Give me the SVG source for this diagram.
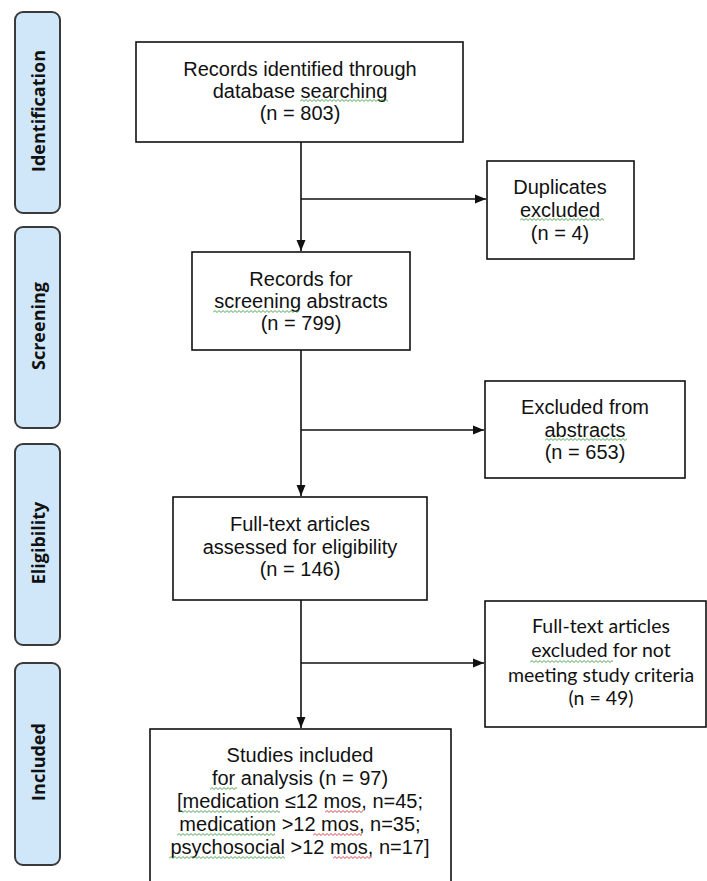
<svg xmlns="http://www.w3.org/2000/svg" xmlns:xlink="http://www.w3.org/1999/xlink" width="707" height="881" viewBox="0 0 707 881">
<style>
.stage rect{fill:#cfe7f9;stroke:#3a3a3a;stroke-width:2}
.stage text{font-family:"Open Sans","DejaVu Sans",sans-serif;font-weight:bold;font-size:18px;fill:#111;text-anchor:middle;dominant-baseline:central}
.box rect{fill:#fff;stroke:#111;stroke-width:1.6}
.box text{font-family:"Liberation Sans",Arial,sans-serif;font-size:20px;fill:#111;text-anchor:middle}
.box text.cal{font-family:Lato,"Open Sans",sans-serif;font-size:19.5px}
.conn line{stroke:#111;stroke-width:1.6}
.sq{stroke:#3a9a3a;stroke-width:0.9;fill:none;overflow:hidden}
.sqr{stroke:#d03030;stroke-width:0.9;fill:none;overflow:hidden}
</style>
<defs>
<marker id="ah" markerWidth="11" markerHeight="10" refX="11" refY="5" orient="auto" markerUnits="userSpaceOnUse">
<path d="M0,0.5 L11,5 L0,9.5 Z" fill="#111"/>
</marker>
<path id="zz" d="M0,2.5 l2,-2 l2,2 l2,-2 l2,2 l2,-2 l2,2 l2,-2 l2,2 l2,-2 l2,2 l2,-2 l2,2 l2,-2 l2,2 l2,-2 l2,2 l2,-2 l2,2 l2,-2 l2,2 l2,-2 l2,2 l2,-2 l2,2 l2,-2 l2,2 l2,-2 l2,2 l2,-2 l2,2 l2,-2 l2,2 l2,-2 l2,2 l2,-2 l2,2 l2,-2 l2,2 l2,-2 l2,2 l2,-2 l2,2 l2,-2 l2,2 l2,-2 l2,2 l2,-2 l2,2 l2,-2 l2,2 l2,-2 l2,2 l2,-2 l2,2 l2,-2 l2,2 l2,-2 l2,2 l2,-2 l2,2 l2,-2 l2,2 l2,-2 l2,2"/>
</defs>
<rect width="707" height="881" fill="#fff"/>

<g id="stage-identification" class="stage">
<rect x="15" y="12" width="45" height="201" rx="8"/>
<text transform="translate(37.5,111) rotate(-90)">Identification</text>
</g>
<g id="stage-screening" class="stage">
<rect x="15" y="227" width="45" height="201" rx="8"/>
<text transform="translate(37.5,326) rotate(-90)">Screening</text>
</g>
<g id="stage-eligibility" class="stage">
<rect x="15" y="444" width="45" height="201" rx="8"/>
<text transform="translate(37.5,543) rotate(-90)">Eligibility</text>
</g>
<g id="stage-included" class="stage">
<rect x="15" y="663" width="45" height="202" rx="8"/>
<text transform="translate(37.5,762) rotate(-90)">Included</text>
</g>

<g id="connectors" class="conn">
<line x1="301" y1="142" x2="301" y2="251" marker-end="url(#ah)"/>
<line x1="301" y1="199" x2="486" y2="199" marker-end="url(#ah)"/>
<line x1="301" y1="350" x2="301" y2="496" marker-end="url(#ah)"/>
<line x1="301" y1="430" x2="484" y2="430" marker-end="url(#ah)"/>
<line x1="301" y1="600" x2="301" y2="728" marker-end="url(#ah)"/>
<line x1="301" y1="663" x2="484" y2="663" marker-end="url(#ah)"/>
</g>

<g id="records-identified" class="box">
<rect x="136" y="42" width="327" height="100"/>
<text x="300" y="76">Records identified through</text>
<text x="300" y="98">database searching</text>
<text x="300" y="120">(n = 803)</text>
<svg class="sq" x="300" y="99" width="88" height="3"><use xlink:href="#zz"/></svg>
</g>

<g id="duplicates-excluded" class="box">
<rect x="487" y="161" width="147" height="98"/>
<text x="560" y="194">Duplicates</text>
<text x="560" y="217">excluded</text>
<text x="560" y="240">(n = 4)</text>
<svg class="sq" x="520" y="218" width="84" height="3"><use xlink:href="#zz"/></svg>
</g>

<g id="records-screening" class="box">
<rect x="192" y="252" width="218" height="98"/>
<text x="301" y="286">Records for</text>
<text x="301" y="308">screening abstracts</text>
<text x="301" y="330">(n = 799)</text>
<svg class="sq" x="213" y="310" width="86" height="3"><use xlink:href="#zz"/></svg>
</g>

<g id="excluded-abstracts" class="box">
<rect x="485" y="381" width="200" height="97"/>
<text x="585" y="414">Excluded from</text>
<text x="585" y="437">abstracts</text>
<text x="585" y="459">(n = 653)</text>
<svg class="sq" x="545" y="438" width="82" height="3"><use xlink:href="#zz"/></svg>
</g>

<g id="fulltext-assessed" class="box">
<rect x="173" y="497" width="254" height="103"/>
<text x="300" y="531">Full-text articles</text>
<text x="300" y="554">assessed for eligibility</text>
<text x="300" y="576">(n = 146)</text>
</g>

<g id="fulltext-excluded" class="box">
<rect x="485" y="601" width="221" height="126"/>
<text class="cal" x="601" y="633">Full-text articles</text>
<text class="cal" x="601" y="657">excluded for not</text>
<text class="cal" x="601" y="682">meeting study criteria</text>
<text class="cal" x="601" y="705">(n = 49)</text>
<svg class="sq" x="530" y="660" width="83" height="3"><use xlink:href="#zz"/></svg>
</g>

<g id="studies-included" class="box">
<rect x="150" y="729" width="301" height="165"/>
<text x="300" y="762">Studies included</text>
<text x="300" y="785">for analysis (n = 97)</text>
<text x="300" y="808">[medication ≤12 mos, n=45;</text>
<text x="300" y="831">medication &gt;12 mos, n=35;</text>
<text x="300" y="854">psychosocial &gt;12 mos, n=17]</text>
<svg class="sq" x="210" y="787" width="27" height="3"><use xlink:href="#zz"/></svg>
<svg class="sq" x="179" y="810" width="101" height="3"><use xlink:href="#zz"/></svg>
<svg class="sqr" x="325" y="810" width="38" height="3"><use xlink:href="#zz"/></svg>
<svg class="sq" x="177" y="833" width="98" height="3"><use xlink:href="#zz"/></svg>
<svg class="sqr" x="313" y="833" width="49" height="3"><use xlink:href="#zz"/></svg>
<svg class="sq" x="169" y="856" width="116" height="3"><use xlink:href="#zz"/></svg>
<svg class="sqr" x="333" y="856" width="39" height="3"><use xlink:href="#zz"/></svg>
</g>
</svg>
